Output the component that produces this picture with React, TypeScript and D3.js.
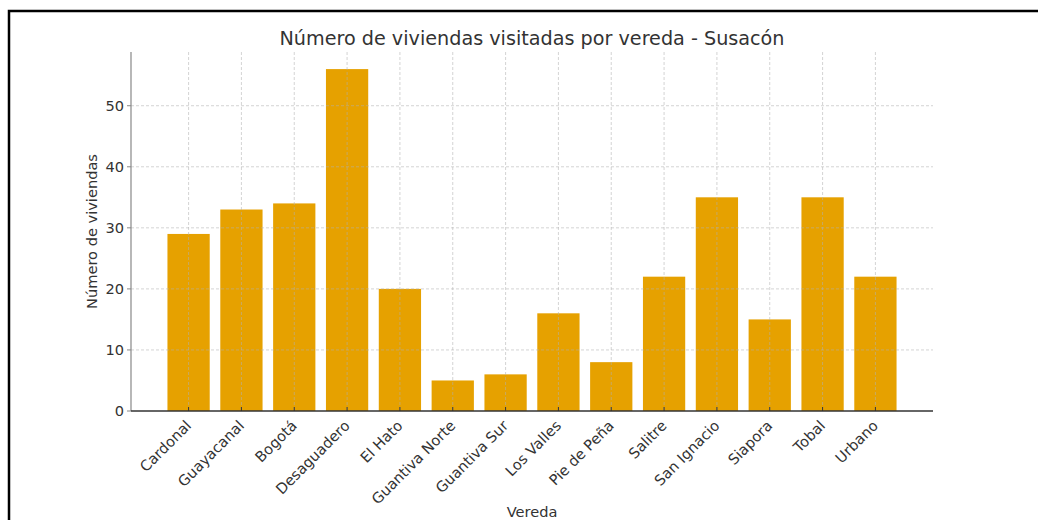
import * as d3 from "d3";

const veredas = [
  "Cardonal",
  "Guayacanal",
  "Bogotá",
  "Desaguadero",
  "El Hato",
  "Guantiva Norte",
  "Guantiva Sur",
  "Los Valles",
  "Pie de Peña",
  "Salitre",
  "San Ignacio",
  "Siapora",
  "Tobal",
  "Urbano",
];
const viviendas = [29, 33, 34, 56, 20, 5, 6, 16, 8, 22, 35, 15, 35, 22];
const yTicks = [0, 10, 20, 30, 40, 50];

const W = 1038;
const H = 520;
const M = { top: 52, right: 105, bottom: 109, left: 131 };
const FONT = "'DejaVu Sans', sans-serif";
const BAR = "#e6a100";
const TXT = "#333333";
const FS = 14.6;

export default function App() {
  const w = W - M.left - M.right;
  const h = H - M.top - M.bottom;

  // matplotlib-style: bar width 0.8, 5% margins
  const n = veredas.length;
  const lo = -0.4 - 0.05 * (n - 1 + 0.8);
  const hi = n - 1 + 0.4 + 0.05 * (n - 1 + 0.8);
  const x = d3.scaleLinear().domain([lo, hi]).range([0, w]);
  const yMax = (d3.max(viviendas) ?? 0) * 1.05;
  const y = d3.scaleLinear().domain([0, yMax]).range([h, 0]);
  const bw = x(0.8) - x(0);

  return (
    <svg
      width={W}
      height={H}
      style={{ position: "fixed", left: 0, top: 0, background: "#fff" }}
      fontFamily={FONT}
    >
      {/* frame */}
      <path d={`M9,${H} V11 H${W}`} fill="none" stroke="#000" strokeWidth={2.5} />

      <text
        x={M.left + w / 2}
        y={45}
        textAnchor="middle"
        fontSize={19.2}
        fill={TXT}
      >
        Número de viviendas visitadas por vereda - Susacón
      </text>

      <g transform={`translate(${M.left},${M.top})`}>
        {veredas.map((v, i) => (
          <rect
            key={v}
            x={x(i) - bw / 2}
            y={y(viviendas[i])}
            width={bw}
            height={h - y(viviendas[i])}
            fill={BAR}
          />
        ))}

        {/* grid on top */}
        {yTicks
          .filter((t) => t > 0)
          .map((t) => (
            <line
              key={t}
              x1={0}
              x2={w}
              y1={y(t)}
              y2={y(t)}
              stroke="#b0b0b0"
              strokeOpacity={0.55}
              strokeDasharray="3,2"
            />
          ))}
        {veredas.map((v, i) => (
          <line
            key={v}
            x1={x(i)}
            x2={x(i)}
            y1={0}
            y2={h}
            stroke="#b0b0b0"
            strokeOpacity={0.55}
            strokeDasharray="3,2"
          />
        ))}

        {/* y axis */}
        <line x1={0} x2={0} y1={0} y2={h} stroke="#888" strokeWidth={1.2} />
        {yTicks.map((t) => (
          <g key={t} transform={`translate(0,${y(t)})`}>
            <line x1={-4} x2={0} stroke="#888" />
            <text
              x={-7}
              dy="0.35em"
              textAnchor="end"
              fontSize={FS}
              fill={TXT}
            >
              {t}
            </text>
          </g>
        ))}

        {/* x axis */}
        <line x1={0} x2={w} y1={h} y2={h} stroke="#333" strokeWidth={1.3} />
        {veredas.map((v, i) => (
          <g key={v} transform={`translate(${x(i)},${h})`}>
            <line y1={0} y2={-4} stroke="#333" />
            <text
              transform="translate(0,12) rotate(-45)"
              textAnchor="end"
              dy="0.35em"
              fontSize={FS}
              fill={TXT}
            >
              {v}
            </text>
          </g>
        ))}

        <text
          transform={`translate(-34,${h / 2}) rotate(-90)`}
          textAnchor="middle"
          fontSize={FS}
          fill={TXT}
        >
          Número de viviendas
        </text>
        <text
          x={w / 2}
          y={h + 106}
          textAnchor="middle"
          fontSize={FS}
          fill={TXT}
        >
          Vereda
        </text>
      </g>
    </svg>
  );
}
